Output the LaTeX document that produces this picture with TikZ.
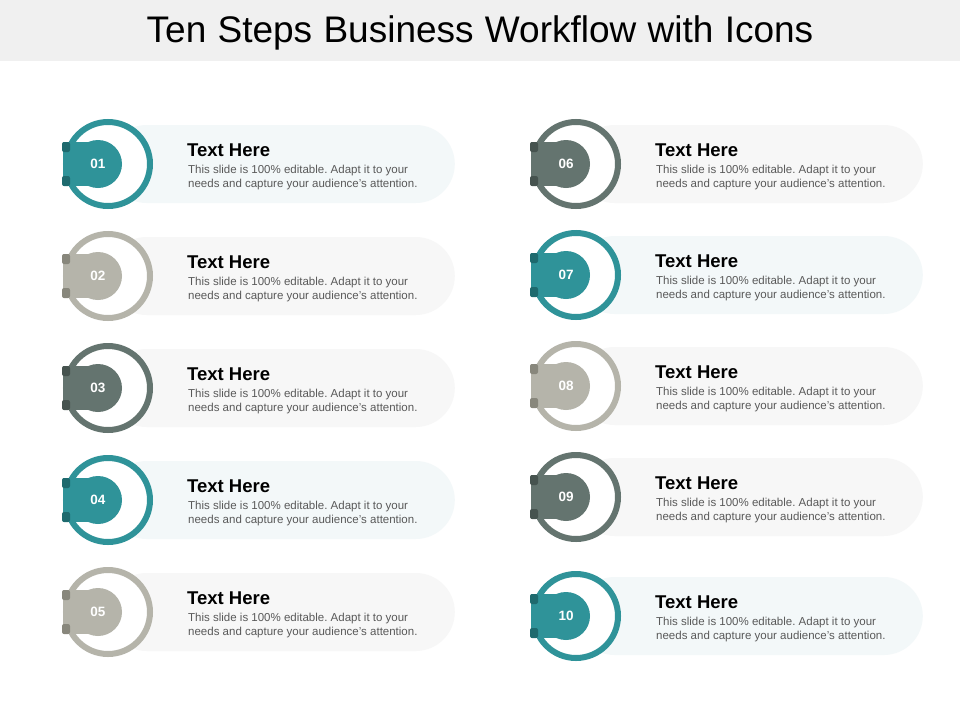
\documentclass[tikz,border=0pt]{standalone}
\usepackage{fontspec}
\setmainfont{Liberation Sans}
\newfontfamily\titlefont[WordSpace=1.1]{Liberation Sans}
\definecolor{band}{HTML}{F0F0F0}
\definecolor{teal}{HTML}{2F9399}
\definecolor{tealdk}{HTML}{1E6A6E}
\definecolor{slate}{HTML}{64746F}
\definecolor{slatedk}{HTML}{46534F}
\definecolor{stone}{HTML}{B5B4AA}
\definecolor{stonedk}{HTML}{88877C}
\definecolor{pillteal}{HTML}{F3F8F9}
\definecolor{pillgray}{HTML}{F7F7F7}
\definecolor{bodytxt}{HTML}{595959}
\frenchspacing
\tikzset{
  pill/.style={rectangle, rounded corners=39pt, minimum width=347pt, minimum height=78pt, inner sep=0pt, draw=none},
  ring/.style={circle, minimum size=84pt, inner sep=0pt, line width=6pt, fill=white},
  disk/.style={circle, minimum size=48pt, inner sep=0pt, text=white, font=\bfseries\fontsize{13.5}{15}\selectfont},
  ttl/.style={anchor=west, inner sep=0pt, font=\bfseries\fontsize{18.5}{20}\selectfont, text=black},
  body/.style={anchor=north west, inner sep=0pt, align=left, text=bodytxt, font=\fontsize{11.5}{14}\selectfont},
}
\newcommand\wfitem[7]{%
  \node[pill, fill=#6, anchor=east] (pill#1) at (#2+347,#3) {};
  \node[ring, draw=#4] (ring#1) at (#2,#3) {};
  \fill[#4] (#2-45,#3-22) rectangle (#2-10,#3+22);
  \fill[#5, rounded corners=2pt] (#2-46,#3-22) rectangle (#2-38,#3-12);
  \fill[#5, rounded corners=2pt] (#2-46,#3+12) rectangle (#2-38,#3+22);
  \node[disk, fill=#4] (disk#1) at (#2-10,#3) {#7};
  \node[ttl] (ttl#1) at (#2+79,#3-14) {Text Here};
  \node[body] (body#1) at (#2+80,#3+1) {This slide is 100\% editable. Adapt it to your\\needs and capture your audience's attention.};
}
\begin{document}
\begin{tikzpicture}[x=1pt,y=-1pt]
\useasboundingbox (0,0) rectangle (960,720);
\fill[white] (0,0) rectangle (960,720);
\fill[band] (0,0) rectangle (960,61);
\node[font=\titlefont\fontsize{37}{40}\selectfont, inner sep=0pt] (title) at (480,33) {Ten Steps Business Workflow with Icons};
\wfitem{1}{108}{164}{teal}{tealdk}{pillteal}{01}
\wfitem{2}{108}{276}{stone}{stonedk}{pillgray}{02}
\wfitem{3}{108}{388}{slate}{slatedk}{pillgray}{03}
\wfitem{4}{108}{500}{teal}{tealdk}{pillteal}{04}
\wfitem{5}{108}{612}{stone}{stonedk}{pillgray}{05}
\wfitem{6}{576}{164}{slate}{slatedk}{pillgray}{06}
\wfitem{7}{576}{275}{teal}{tealdk}{pillteal}{07}
\wfitem{8}{576}{386}{stone}{stonedk}{pillgray}{08}
\wfitem{9}{576}{497}{slate}{slatedk}{pillgray}{09}
\wfitem{10}{576}{616}{teal}{tealdk}{pillteal}{10}
\end{tikzpicture}
\end{document}
